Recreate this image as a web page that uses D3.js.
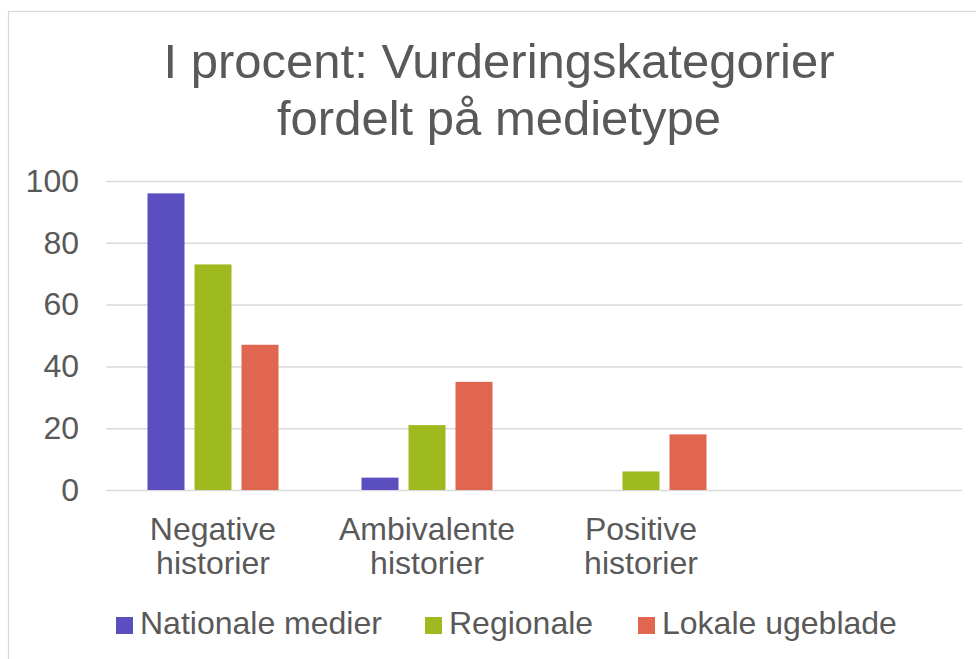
<!DOCTYPE html>
<html>
<head>
<meta charset="utf-8">
<script src="https://cdn.jsdelivr.net/npm/d3@7"></script>
<style>
  body { margin: 0; background: #fff; }
  text { font-family: "Liberation Sans", Arial, sans-serif; fill: #595959; }
</style>
</head>
<body>
<div id="chart"></div>
<script>
// grouped bar chart: vurderingskategorier per medietype (in percent)

const categories = ["Negative historier", "Ambivalente historier", "Positive historier"];
const seriesNames = ["Nationale medier", "Regionale", "Lokale ugeblade"];
const nationaleValues = [96, 4, 0];
const regionaleValues = [73, 21, 6];
const lokaleValues = [47, 35, 18];
const yTicks = [0, 20, 40, 60, 80, 100];
const titleLines = ["I procent: Vurderingskategorier", "fordelt på medietype"];

const colors = ["#5B4FBF", "#9FBA1F", "#E0664F"];

const width = 976;
const height = 659;
const margin = { top: 181, right: 14, bottom: 169, left: 106 };
const plotWidth = width - margin.left - margin.right;
const plotHeight = height - margin.top - margin.bottom;
const labelSize = 32;

const seriesValues = [nationaleValues, regionaleValues, lokaleValues];

const svg = d3.select("#chart")
    .append("svg")
    .attr("width", width)
    .attr("height", height);

// chart frame (runs off the right and bottom edges)
svg.append("rect")
    .attr("x", 8.5)
    .attr("y", 11.5)
    .attr("width", width + 10)
    .attr("height", height + 10)
    .attr("fill", "none")
    .attr("stroke", "#D9D9D9")
    .attr("stroke-width", 1.2);

svg.append("text")
    .attr("text-anchor", "middle")
    .attr("font-size", 49)
    .selectAll("tspan")
    .data(titleLines)
    .enter()
    .append("tspan")
    .attr("x", 499)
    .attr("y", (_, i) => 78 + i * 57)
    .text(d => d);

const g = svg.append("g")
    .attr("transform", `translate(${margin.left},${margin.top})`);

// 4th band is left empty, like the original sheet
const xScale = d3.scaleBand()
    .domain(d3.range(categories.length + 1))
    .range([0, plotWidth]);

const groupWidth = xScale.bandwidth() * 131 / 214;
const innerScale = d3.scaleBand()
    .domain(d3.range(seriesNames.length))
    .range([-groupWidth / 2, groupWidth / 2])
    .paddingInner(10 / 47);

const yScale = d3.scaleLinear()
    .domain([0, 100])
    .range([plotHeight, 0]);

const yAxis = g.append("g")
    .call(d3.axisLeft(yScale)
        .tickValues(yTicks)
        .tickSize(-plotWidth)
        .tickPadding(27));

yAxis.select(".domain").remove();
yAxis.selectAll(".tick line")
    .attr("stroke", "#D9D9D9")
    .attr("stroke-width", 1.5);
yAxis.selectAll(".tick text")
    .attr("font-size", labelSize)
    .attr("font-family", "Liberation Sans, Arial, sans-serif")
    .attr("fill", "#595959");

const bars = [];
seriesValues.forEach((vals, s) => {
    vals.forEach((v, c) => bars.push({ series: s, cat: c, value: v }));
});

g.selectAll("rect.bar")
    .data(bars.filter(d => d.value > 0))
    .enter()
    .append("rect")
    .attr("class", "bar")
    .attr("x", d => xScale(d.cat) + xScale.bandwidth() / 2 + innerScale(d.series))
    .attr("y", d => yScale(d.value))
    .attr("width", innerScale.bandwidth())
    .attr("height", d => yScale(0) - yScale(d.value))
    .attr("fill", d => colors[d.series]);

// category labels, two lines each
g.selectAll("text.cat-label")
    .data(categories)
    .enter()
    .append("text")
    .attr("class", "cat-label")
    .attr("text-anchor", "middle")
    .attr("font-size", labelSize)
    .each(function (d, i) {
        const el = d3.select(this);
        d.split(" ").forEach((line, j) => {
            el.append("tspan")
                .attr("x", xScale(i) + xScale.bandwidth() / 2)
                .attr("y", plotHeight + 50 + j * 34)
                .text(line);
        });
    });

// legend
const legendX = [116, 425, 638];
const legend = svg.append("g");
seriesNames.forEach((name, i) => {
    legend.append("rect")
        .attr("x", legendX[i])
        .attr("y", 617)
        .attr("width", 17)
        .attr("height", 17)
        .attr("fill", colors[i]);
    legend.append("text")
        .attr("x", legendX[i] + 24)
        .attr("y", 634)
        .attr("font-size", labelSize)
        .text(name);
});
</script>
</body>
</html>
